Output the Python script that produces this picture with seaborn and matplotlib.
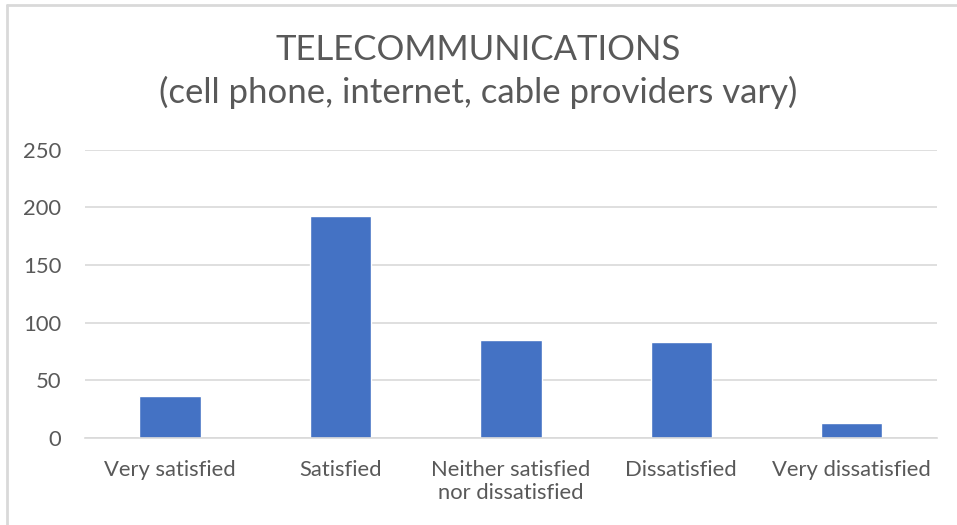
import matplotlib
matplotlib.use("Agg")
import matplotlib.pyplot as plt
from matplotlib.lines import Line2D
import seaborn as sns
import pandas as pd

# Dados
categorias = ["Very satisfied", "Satisfied", "Neither satisfied\nnor dissatisfied",
              "Dissatisfied", "Very dissatisfied"]
respostas = [36, 192, 85, 83, 13]
y_ticks = [0, 50, 100, 150, 200, 250]

df = pd.DataFrame({"categoria": categorias, "respostas": respostas})

sns.set_style("white")
plt.rcParams["font.family"] = ["Lato", "DejaVu Sans"]

fig = plt.figure(figsize=(9.57, 5.25), dpi=100)
ax = fig.add_axes([0.0888, 0.1657, 0.890, 0.5495])

sns.barplot(data=df, x="categoria", y="respostas", color="#4472C4",
            width=0.36, saturation=1, ax=ax)

ax.set_ylim(0, 250)
ax.set_yticks(y_ticks)
ax.set_xlim(-0.5, len(categorias) - 0.5)
ax.grid(axis="y", color="#d9d9d9", linewidth=1.2)
ax.set_axisbelow(True)
for s in ["top", "right", "left"]:
    ax.spines[s].set_visible(False)
ax.spines["bottom"].set_color("#d9d9d9")
ax.spines["bottom"].set_linewidth(1.2)
ax.tick_params(axis="both", length=0, labelsize=15.8, labelcolor="#595959")
ax.tick_params(axis="x", pad=16)
ax.tick_params(axis="y", pad=17)
for lbl in ax.get_xticklabels():
    lbl.set_linespacing(1.2)
ax.set_xlabel("")
ax.set_ylabel("")

fig.text(0.5, 0.864, "TELECOMMUNICATIONS\n(cell phone, internet, cable providers vary)",
         ha="center", va="center", fontsize=25, color="#595959", linespacing=1.38)

# borda do gráfico
fig.add_artist(Line2D([7 / 957, 7 / 957], [0, 1 - 5 / 525], color="#d9d9d9", lw=2))
fig.add_artist(Line2D([7 / 957, 1], [1 - 5 / 525, 1 - 5 / 525], color="#d9d9d9", lw=2))

fig.savefig("out.png", dpi=100)
